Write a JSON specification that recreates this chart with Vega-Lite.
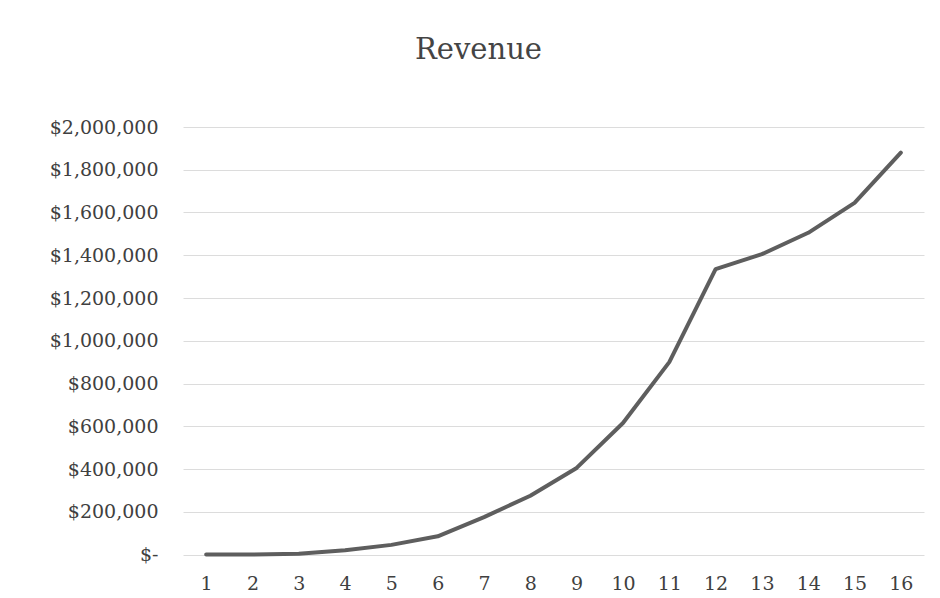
{
  "$schema": "https://vega.github.io/schema/vega-lite/v6.json",
  "autosize": "none",
  "width": 741,
  "height": 427.5,
  "padding": {"left": 183, "top": 127, "right": 16, "bottom": 43.5},
  "background": "#ffffff",
  "title": {
    "text": "Revenue",
    "font": "DejaVu Serif",
    "fontSize": 29,
    "fontWeight": "normal",
    "color": "#444444",
    "anchor": "middle",
    "baseline": "alphabetic",
    "offset": 30,
    "dx": -75
  },
  "data": {
    "values": [
      {"period": 1, "revenue": 0},
      {"period": 2, "revenue": 0},
      {"period": 3, "revenue": 3000},
      {"period": 4, "revenue": 20000},
      {"period": 5, "revenue": 45000},
      {"period": 6, "revenue": 85000},
      {"period": 7, "revenue": 175000},
      {"period": 8, "revenue": 275000},
      {"period": 9, "revenue": 405000},
      {"period": 10, "revenue": 615000},
      {"period": 11, "revenue": 900000},
      {"period": 12, "revenue": 1335000},
      {"period": 13, "revenue": 1405000},
      {"period": 14, "revenue": 1505000},
      {"period": 15, "revenue": 1645000},
      {"period": 16, "revenue": 1880000}
    ]
  },
  "mark": {"type": "line", "color": "#5e5e5e", "strokeWidth": 4, "strokeCap": "round", "strokeJoin": "round"},
  "encoding": {
    "x": {
      "field": "period",
      "type": "ordinal",
      "scale": {"type": "point", "padding": 0.5},
      "axis": {
        "title": null,
        "labelAngle": 0,
        "labelFont": "DejaVu Serif",
        "labelFontSize": 19,
        "labelColor": "#404040",
        "labelPadding": 20,
        "ticks": false,
        "domain": false,
        "grid": false
      }
    },
    "y": {
      "field": "revenue",
      "type": "quantitative",
      "scale": {"domain": [0, 2000000], "nice": false},
      "axis": {
        "title": null,
        "values": [0, 200000, 400000, 600000, 800000, 1000000, 1200000, 1400000, 1600000, 1800000, 2000000],
        "labelExpr": "datum.value == 0 ? '$-\u00a0\u00a0' : '$' + format(datum.value, ',')",
        "labelFont": "DejaVu Serif",
        "labelFontSize": 19,
        "labelColor": "#404040",
        "labelPadding": 25,
        "ticks": false,
        "domain": false,
        "grid": true,
        "gridColor": "#dcdcdc",
        "gridWidth": 1
      }
    }
  },
  "config": {
    "view": {"stroke": null}
  }
}
